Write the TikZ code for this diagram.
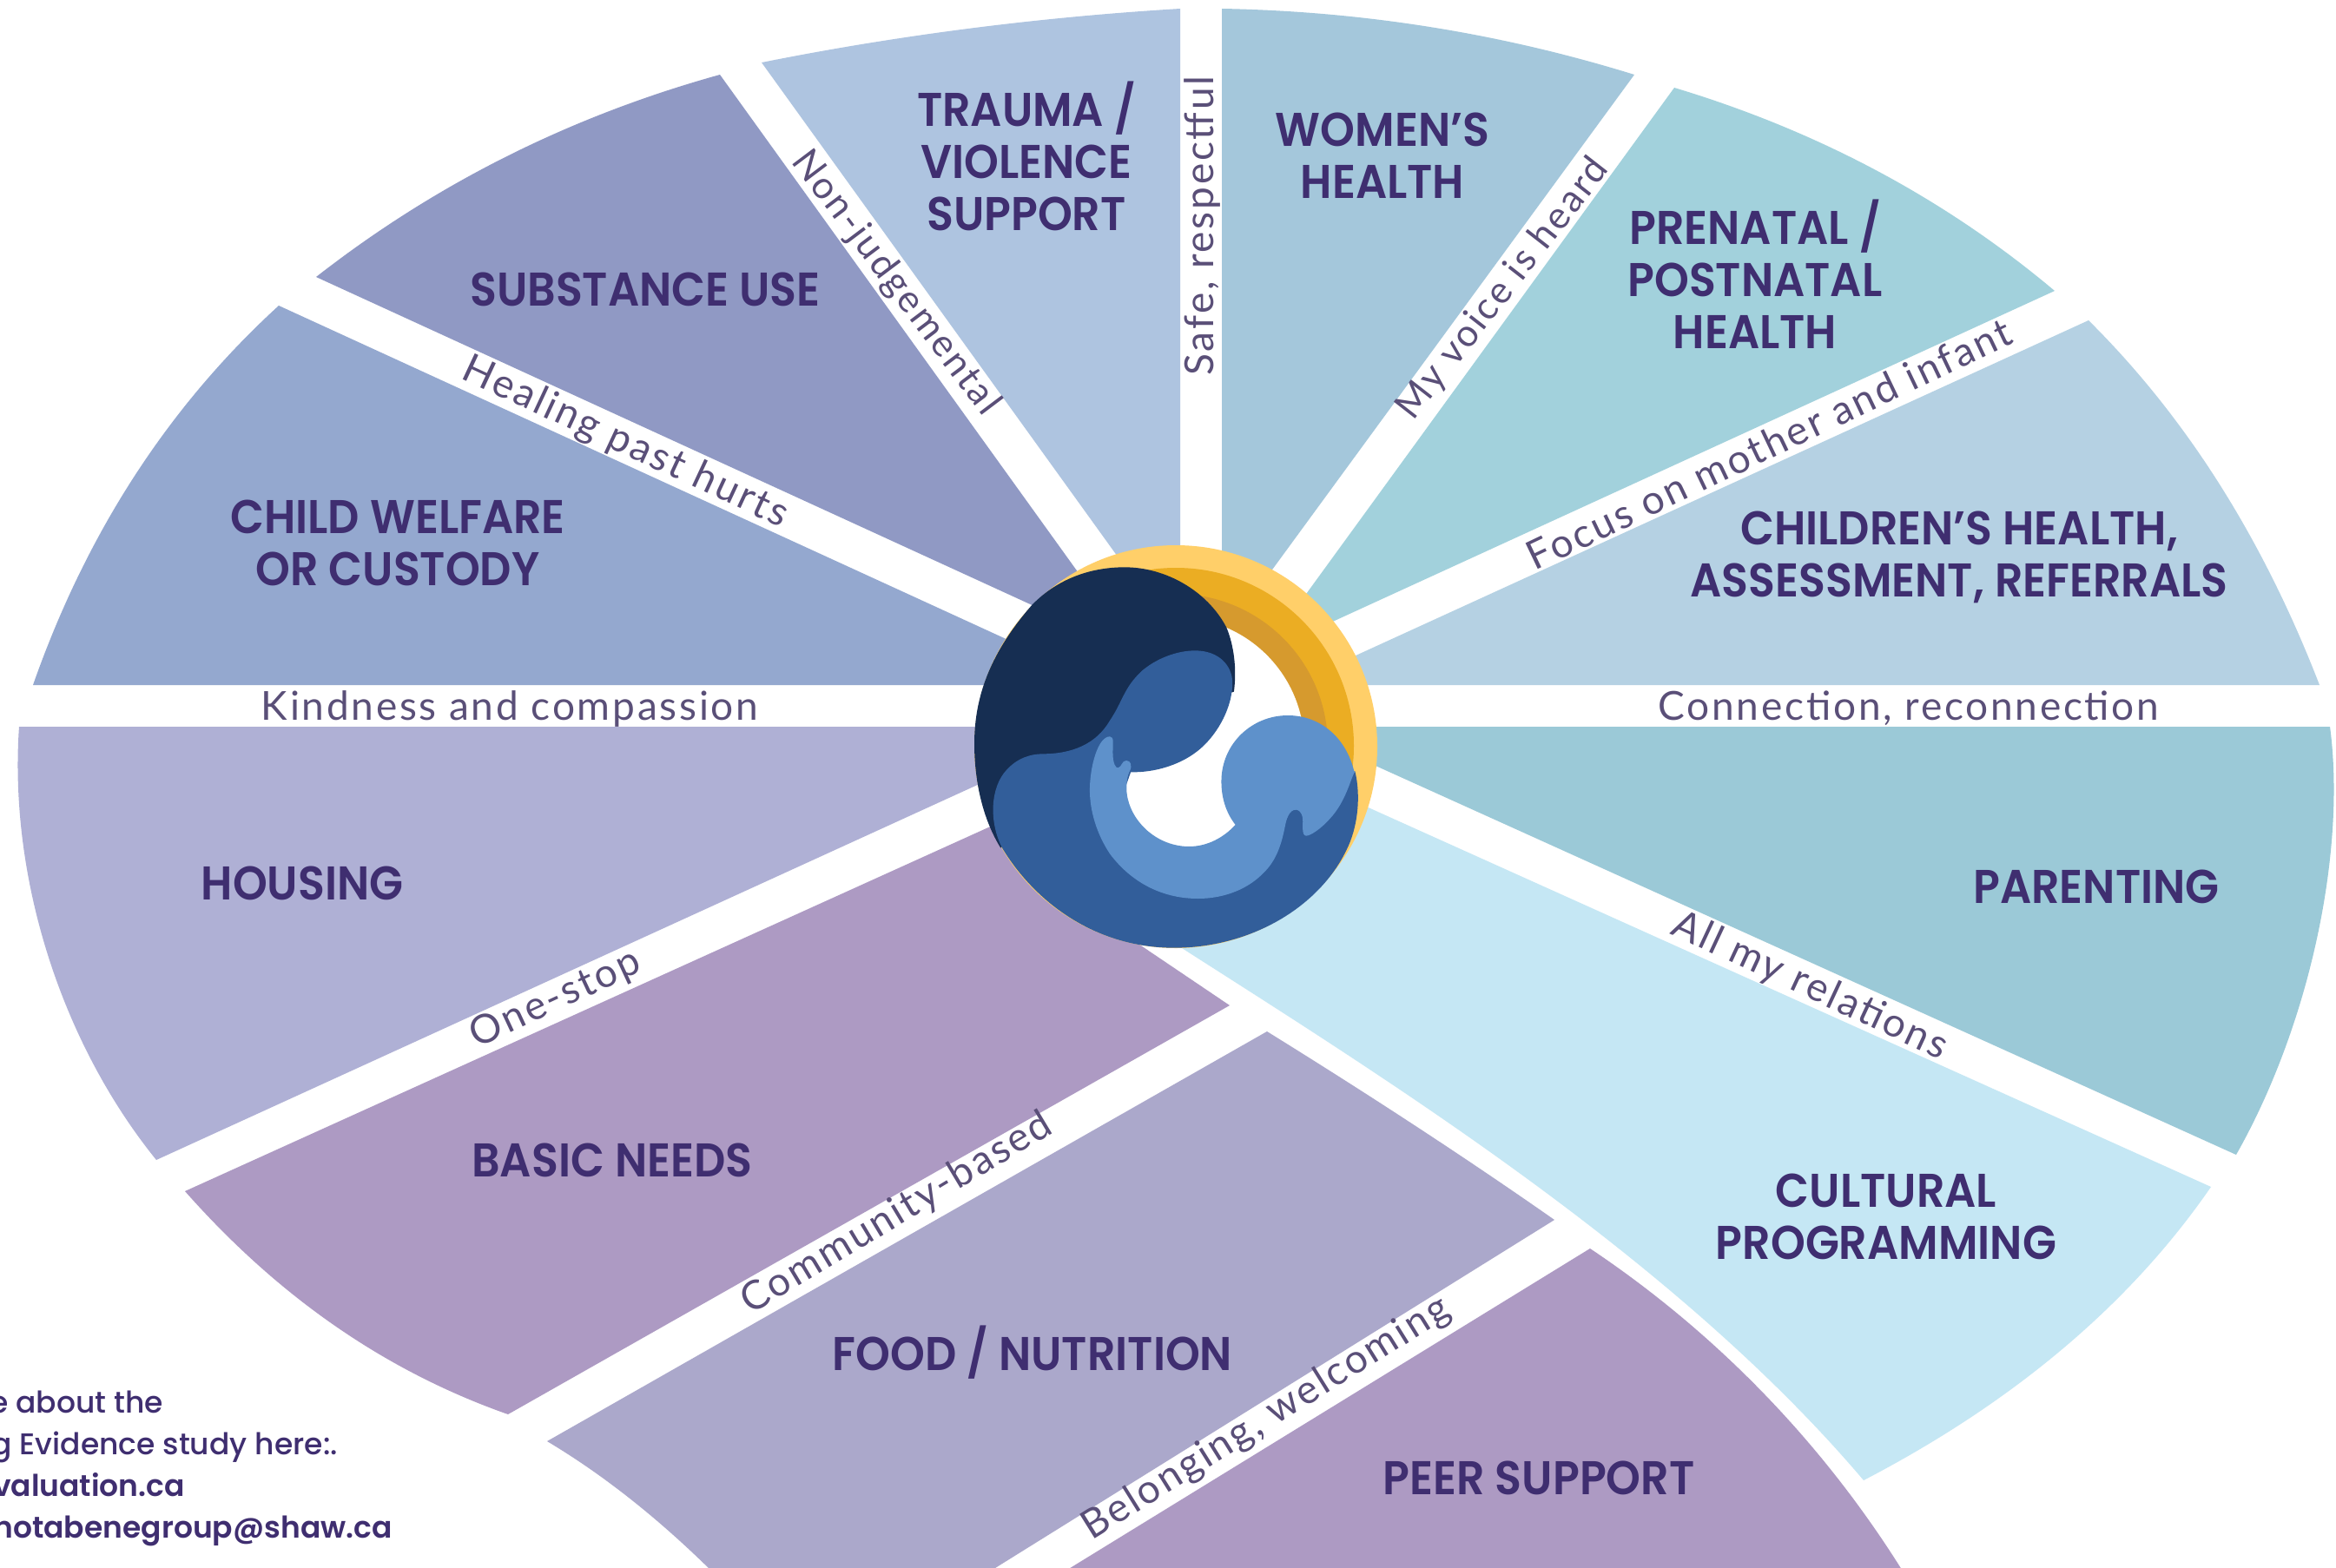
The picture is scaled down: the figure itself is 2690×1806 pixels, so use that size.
\documentclass[tikz,border=0pt]{standalone}
\usepackage{fontspec}
\setmainfont{Poppins}
\newfontfamily\headfont[FakeStretch=0.93]{Poppins SemiBold}
\newfontfamily\footfont{Poppins Medium}
\newfontfamily\footbfont{Poppins SemiBold}
\newfontfamily\thinfont[LetterSpace=6]{Lato}
\definecolor{ink}{HTML}{3F2E70}
\definecolor{thin}{HTML}{5A4F78}
\definecolor{ctrauma}{HTML}{AEC4E0}
\definecolor{csubst}{HTML}{9099C4}
\definecolor{cchild}{HTML}{94A8CF}
\definecolor{chouse}{HTML}{AFB0D5}
\definecolor{cbasic}{HTML}{AD9AC3}
\definecolor{cfood}{HTML}{ABA8CB}
\definecolor{ccult}{HTML}{C5E7F4}
\definecolor{cparent}{HTML}{9BC9D7}
\definecolor{cchildren}{HTML}{B5D1E3}
\definecolor{cprenatal}{HTML}{A2D1DC}
\definecolor{cwomen}{HTML}{A4C7DB}
\definecolor{sun}{HTML}{FFCF69}
\definecolor{gold}{HTML}{EBAD23}
\definecolor{amber}{HTML}{D69A2E}
\definecolor{navy}{HTML}{162E52}
\definecolor{midblue}{HTML}{325E9A}
\definecolor{lightblue}{HTML}{5E91CB}
\tikzset{
  head/.style={text=ink,align=center,inner sep=0pt,font=\headfont\fontsize{54.5}{60}\selectfont},
  virtue/.style={text=thin,inner sep=0pt,font=\thinfont\fontsize{46}{50}\selectfont},
  virtues/.style={virtue,font=\thinfont\fontsize{43.5}{50}\selectfont},
  foot/.style={text=ink,inner sep=0pt,anchor=base east,font=\footfont\fontsize{34.5}{40}\selectfont},
  footb/.style={foot,font=\footbfont\fontsize{34.5}{40}\selectfont}
}
\begin{document}
\begin{tikzpicture}[x=1pt,y=-1pt]
\useasboundingbox (0,0) rectangle (2690,1806);
\fill[white] (0,0) rectangle (2690,1806);
% segments
\fill[ctrauma] (877,72) .. controls (1032,41) and (1193,20) .. (1359,10) -- (1359,700) -- (1310,673) -- cycle;
\fill[cwomen] (1407,10) .. controls (1569,13) and (1727,38) .. (1882,86) -- (1430,704) -- (1407,700) -- cycle;
\fill[cprenatal] (1928,101) .. controls (2094,151) and (2240,229) .. (2366,335) -- (1480,741) -- (1470,731) -- cycle;
\fill[cchildren] (2405,369) .. controls (2518,481) and (2606,621) .. (2671,789) -- (1500,789) -- (1500,783) -- cycle;
\fill[cparent] (2683,837) .. controls (2702,980) and (2660,1180) .. (2575,1330) -- (1500,844) -- (1500,837) -- cycle;
\fill[ccult] (2546,1367) .. controls (2453,1502) and (2319,1615) .. (2146,1705) .. controls (1930,1450) and (1600,1245) .. (1361,1092) -- (1300,1053) -- (1500,896) -- cycle;
\fill[cbasic] (2195,1816) .. controls (2097,1657) and (1970,1531) .. (1831,1438) -- (1216,1816) -- cycle;
\fill[cfood] (1459,1188) .. controls (1580,1263) and (1690,1335) .. (1790,1405) -- (1130,1816) -- (826,1816) .. controls (762,1752) and (697,1700) .. (630,1660) -- cycle;
\fill[cbasic] (1416,1158) -- (1250,1046) -- (1200,925) -- (213,1372) .. controls (320,1493) and (443,1579) .. (585,1629) -- cycle;
\fill[chouse] (22,837) .. controls (10,1010) and (70,1200) .. (180,1336) -- (1200,870) -- (1200,837) -- cycle;
\fill[cchild] (321,352) .. controls (193,469) and (99,615) .. (38,789) -- (1200,789) -- (1200,755) -- cycle;
\fill[csubst] (829,86) .. controls (656,134) and (501,212) .. (364,319) -- (1230,716) -- (1270,699) -- cycle;
% logo
\fill[sun] (1354,860) circle[radius=232pt];
\fill[gold] (1354,859) circle[radius=205pt];
\fill[amber] (1354,859) circle[radius=175pt];
\fill[white] (1354,859) circle[radius=148pt];
\begin{scope}[shift={(1080,600)},x=0.34435pt,y=-0.33333pt]
\fill[navy] (625,160) .. controls (760,160) and (900,240) .. (965,368) .. controls (990,430) and (1000,510) .. (990,590) -- (800,650) -- (400,900) -- (210,1130) .. controls (150,1030) and (122,900) .. (122,770) .. controls (122,600) and (180,450) .. (315,290) .. controls (400,200) and (510,160) .. (625,160) -- cycle;
\fill[midblue] (350,805) .. controls (450,805) and (530,770) .. (575,690) .. controls (620,620) and (620,580) .. (680,520) .. controls (730,475) and (800,448) .. (860,448) .. controls (940,448) and (985,500) .. (985,560) .. controls (985,640) and (940,730) .. (880,785) .. controls (820,840) and (730,870) .. (645,868) -- (600,1000) -- (750,1220) -- (1050,1180) -- (1200,900) -- (1395,865) .. controls (1415,950) and (1405,1060) .. (1365,1140) .. controls (1270,1340) and (1040,1475) .. (790,1475) .. controls (520,1475) and (320,1310) .. (215,1130) .. controls (170,1040) and (175,920) .. (230,860) .. controls (265,820) and (310,805) .. (350,805) -- cycle;
\fill[lightblue] (575,745) .. controls (590,745) and (585,770) .. (585,800) .. controls (585,840) and (595,855) .. (603,853) .. controls (615,850) and (615,828) .. (630,828) .. controls (645,828) and (652,845) .. (640,868) .. controls (630,890) and (628,930) .. (635,960) .. controls (655,1050) and (740,1125) .. (840,1125) .. controls (900,1125) and (955,1095) .. (995,1050) .. controls (965,1010) and (948,960) .. (948,900) .. controls (948,770) and (1050,672) .. (1170,672) .. controls (1280,672) and (1365,750) .. (1392,865) -- (1395,865) .. controls (1380,890) and (1365,970) .. (1310,1030) .. controls (1280,1065) and (1245,1088) .. (1232,1088) .. controls (1215,1088) and (1222,1050) .. (1220,1030) .. controls (1218,1005) and (1205,998) .. (1197,998) .. controls (1175,998) and (1165,1030) .. (1160,1060) .. controls (1150,1110) and (1135,1170) .. (1090,1215) .. controls (1040,1270) and (960,1305) .. (870,1305) .. controls (740,1305) and (640,1240) .. (575,1150) .. controls (530,1080) and (508,1000) .. (508,930) .. controls (508,850) and (535,745) .. (575,745) -- cycle;
\end{scope}
% headings
\node[head] (trauma) at (1182,180) {TRAUMA /\\VIOLENCE\\SUPPORT};
\node[head] (women) at (1592,179) {WOMEN’S\\HEALTH};
\node[head] (prenatal) at (2021,316) {PRENATAL /\\POSTNATAL\\HEALTH};
\node[head] (children) at (2256,642) {CHILDREN’S HEALTH,\\ASSESSMENT, REFERRALS};
\node[head] (parenting) at (2414,1021) {PARENTING};
\node[head] (cultural) at (2172,1401) {CULTURAL\\PROGRAMMING};
\node[head] (peer) at (1772,1702) {PEER SUPPORT};
\node[head] (food) at (1189,1558) {FOOD / NUTRITION};
\node[head] (basic) at (705,1336) {BASIC NEEDS};
\node[head] (housing) at (348,1017) {HOUSING};
\node[head] (welfare) at (458,625) {CHILD WELFARE\\OR CUSTODY};
\node[head] (substance) at (743,333) {SUBSTANCE USE};
% values
\node[virtue,rotate=90] (safe) at (1384,260) {Safe, respectful};
\node[virtues,rotate=-53] (nonj) at (1031,326) {Non-judgemental};
\node[virtues,rotate=52] (voice) at (1731,333) {My voice is heard};
\node[virtue,rotate=25.5] (focus) at (2037,511) {Focus on mother and infant};
\node[virtue] (conn) at (2198,816) {Connection, reconnection};
\node[virtue,rotate=-25] (rel) at (2084,1136) {All my relations};
\node[virtue,rotate=32] (belong) at (1458,1634) {Belonging, welcoming};
\node[virtue,rotate=31] (comm) at (1033,1398) {Community-based};
\node[virtue,rotate=25] (one) at (640,1151) {One-stop};
\node[virtue] (kind) at (587,816) {Kindness and compassion};
\node[virtue,rotate=-25] (heal) at (720,510) {Healing past hurts};
% foot note
\node[foot] (f1) at (188,1627) {e about the};
\node[foot] (f2) at (389,1675) {g Evidence study here:.};
\node[footb] (f3) at (213,1723) {valuation.ca};
\node[footb] (f4) at (452,1771) {notabenegroup@shaw.ca};
\end{tikzpicture}
\end{document}
